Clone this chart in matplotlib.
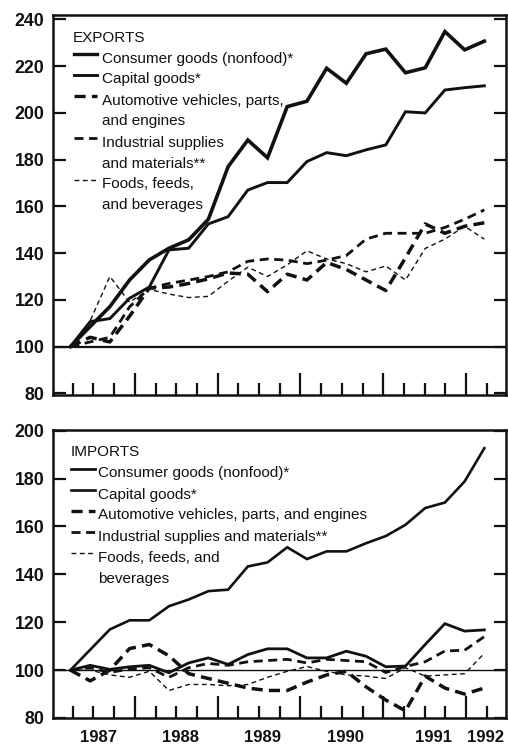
import numpy as np
import matplotlib
matplotlib.use("Agg")
import matplotlib.pyplot as plt
from matplotlib.transforms import blended_transform_factory

plt.rcParams["font.family"] = ["Liberation Sans", "DejaVu Sans"]
plt.rcParams["lines.scale_dashes"] = False

# quarterly index, 1986:Q4 = 100 (22 quarters through 1992:Q1)
quarters = np.arange(22)
years = ["1987", "1988", "1989", "1990", "1991", "1992"]

exp_consumer = [100, 108.6, 117.1, 128.5, 137.1, 142.1, 145.7, 154.5, 177.0, 188.4, 180.8,
                202.7, 205.0, 219.1, 212.7, 225.3, 227.3, 217.2, 219.3, 234.8, 227.0, 230.7]
exp_capital = [100, 110.7, 112.0, 120.7, 125.5, 141.4, 142.1, 152.5, 155.6, 167.0, 170.2,
               170.2, 179.2, 183.0, 181.7, 184.2, 186.3, 200.5, 200.0, 209.8, 210.8, 211.6]
exp_auto = [100, 104, 102, 113, 125, 125.5, 127, 129, 131.5, 131, 123.5,
            131, 128.5, 136, 133, 128.5, 124, 138, 152.5, 148.5, 151.5, 153]
exp_industrial = [100, 102, 104, 117, 125, 127, 128.5, 130, 132, 136.5, 137.5,
                  137, 135.5, 137, 139, 146, 148.5, 148.5, 148.5, 151, 154.5, 158.5]
exp_foods = [100, 111, 130, 119, 124.5, 122.5, 121, 121.5, 128, 134, 130,
             135, 141, 137.5, 135.5, 132, 134.5, 128.5, 142, 146, 151.5, 146]

imp_capital = [100, 108.5, 117, 120.8, 120.8, 126.7, 129.5, 133, 133.6, 143.3, 145,
               151.3, 146.4, 149.6, 149.6, 153, 156, 160.7, 167.7, 170, 178.8, 192.7]
imp_consumer = [100, 102, 100.3, 101.4, 102, 98.9, 103, 105.1, 102.4, 106.5, 108.9,
                108.9, 105.1, 105.1, 107.9, 105.8, 101.4, 101.7, 110.7, 119.4, 116.3, 116.8]
imp_auto = [100, 95.5, 100, 109, 110.7, 106, 98.5, 96.5, 94.5, 92.5, 91.5,
            91.5, 95, 98, 99.5, 93, 87.5, 83, 97.5, 92.5, 90, 92.5]
imp_industrial = [100, 101, 99, 100.5, 101, 97, 101, 102.8, 102, 103.5, 104,
                  104.5, 103, 104.5, 104, 103.5, 99, 101.5, 103.5, 108, 108.3, 114]
imp_foods = [100, 100, 98, 97, 99.5, 91.5, 94, 94, 93.5, 94, 97,
             99.5, 101.5, 99.5, 98, 97.5, 96.5, 101, 97.5, 98, 98.5, 107]

exp_labels = ["Consumer goods (nonfood)*", "Capital goods*",
              "Automotive vehicles, parts,\nand engines",
              "Industrial supplies\nand materials**", "Foods, feeds,\nand beverages"]
imp_labels = ["Consumer goods (nonfood)*", "Capital goods*",
              "Automotive vehicles, parts, and engines",
              "Industrial supplies and materials**", "Foods, feeds, and\nbeverages"]

INK = "#111111"
W, H = 508, 747


def style(name, panel):
    if name == "consumer":
        return dict(lw=2.6 if panel == "exp" else 2.0, ls="-")
    if name == "capital":
        return dict(lw=2.1 if panel == "exp" else 1.9, ls="-")
    if name == "auto":
        return dict(lw=2.5, ls=(0, (8, 4.5)))
    if name == "industrial":
        return dict(lw=2.0, ls=(0, (6.5, 4)))
    return dict(lw=1.0, ls=(0, (3.5, 2.5)))


fig = plt.figure(figsize=(W / 100, H / 100), dpi=100)
ax1 = fig.add_axes([52.7 / W, 1 - 395 / H, (506 - 52.7) / W, 380 / H])
ax2 = fig.add_axes([52.7 / W, 1 - 718 / H, (506 - 52.7) / W, 288 / H])

tick_pos = 0.12 + 1.05 * np.arange(21)
year_pos = [1.40, 5.56, 9.77, 13.93, 18.42, 21.06]

panels = [
    (ax1, "exp", (79.3, 241.9), np.arange(80, 241, 20), 1.6,
     [("consumer", exp_consumer), ("capital", exp_capital), ("auto", exp_auto),
      ("industrial", exp_industrial), ("foods", exp_foods)]),
    (ax2, "imp", (80.3, 200.3), np.arange(80, 201, 20), 1.0,
     [("capital", imp_capital), ("consumer", imp_consumer), ("auto", imp_auto),
      ("industrial", imp_industrial), ("foods", imp_foods)]),
]

for ax, panel, ylim, yticks, base_lw, series in panels:
    ax.set_xlim(-0.9, 22.1)
    ax.set_ylim(*ylim)
    ax.axhline(100, color=INK, lw=base_lw, zorder=1)
    for name, vals in series:
        st = style(name, panel)
        ax.plot(quarters, vals, color=INK, lw=st["lw"], ls=st["ls"],
                solid_joinstyle="miter", dash_capstyle="butt", zorder=3)
    for sp in ax.spines.values():
        sp.set_linewidth(1.8)
        sp.set_color(INK)
    ax.set_yticks(yticks)
    ax.set_yticklabels([str(v) for v in yticks], fontsize=12.8, fontweight="bold", color=INK)
    ax.tick_params(axis="y", direction="in", left=True, right=True, length=9, width=1.6,
                   pad=6, color=INK)
    long_ticks = tick_pos[3::4]
    short_ticks = np.delete(tick_pos, np.arange(3, 21, 4))
    ax.set_xticks(long_ticks)
    ax.set_xticks(short_ticks, minor=True)
    ax.set_xticklabels([])
    ax.tick_params(axis="x", which="major", direction="in", length=16, width=1.6, color=INK)
    ax.tick_params(axis="x", which="minor", direction="in", length=9, width=1.6, color=INK)

trans = blended_transform_factory(ax2.transData, ax2.transAxes)
for xp, yr in zip(year_pos, years):
    ax2.text(xp, -0.066, yr, transform=trans, ha="center", va="center",
             fontsize=12, fontweight="bold", color=INK)


# legends drawn by hand (symbol on the first line of each entry)
def draw_legend(title, labels, names, panel, x_title, x_sym, x_text, y0, step):
    fig.text(x_title / W, 1 - y0 / H, title, fontsize=11, color=INK,
             va="center_baseline", ha="left")
    row = 1
    for lab, name in zip(labels, names):
        yy = 1 - (y0 + row * step) / H
        st = style(name, panel)
        fig.add_artist(plt.Line2D([x_sym[0] / W, x_sym[1] / W], [yy + 0.004, yy + 0.004],
                                  color=INK, lw=min(st["lw"], 2.4), ls=st["ls"]))
        for line in lab.split("\n"):
            fig.text(x_text / W, 1 - (y0 + row * step) / H, line, fontsize=11,
                     color=INK, va="center_baseline", ha="left")
            row += 1


names = ["consumer", "capital", "auto", "industrial", "foods"]
draw_legend("EXPORTS", exp_labels, names, "exp", 72.7, (74, 97), 101.7, 36, 21)
draw_legend("IMPORTS", imp_labels, names, "imp", 71, (71, 95), 98.3, 451, 21)

fig.savefig("out.png", dpi=100, facecolor="white")
